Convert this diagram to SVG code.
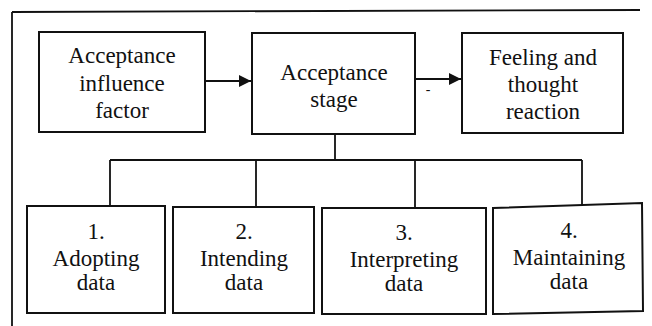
<svg xmlns="http://www.w3.org/2000/svg" width="652" height="326" viewBox="0 0 652 326">
<defs>
<marker id="ah" viewBox="0 0 12 12" refX="12" refY="6" markerWidth="12" markerHeight="12" markerUnits="userSpaceOnUse" orient="auto">
<path d="M0,0 L12,6 L0,12 Z" fill="#111"/>
</marker>
</defs>
<rect width="652" height="326" fill="#fff"/>
<g id="frame" fill="none" stroke="#111" stroke-width="1.8">
<path d="M12,12 L640,10 M12,12 L12,326"/>
</g>
<g id="connectors" fill="none" stroke="#111" stroke-width="1.8">
<path d="M205,81 L251,81" marker-end="url(#ah)"/>
<path d="M415,79 L461,79" marker-end="url(#ah)"/>
<path d="M335,134 L335,160 M110,160 L582,160 M110,160 L110,206 M256,160 L256,207 M415,160 L415,208 M582,160 L582,206"/>
</g>
<text x="428" y="94" font-family="Liberation Serif" font-size="14" text-anchor="middle" fill="#111">-</text>
<g id="n1">
<rect x="39" y="32" width="166" height="100" fill="#fff" stroke="#111" stroke-width="2"/>
<text x="122" y="63" font-family="Liberation Serif" font-size="23" text-anchor="middle" fill="#111">Acceptance</text>
<text x="122" y="91" font-family="Liberation Serif" font-size="23" text-anchor="middle" fill="#111">influence</text>
<text x="122" y="118" font-family="Liberation Serif" font-size="23" text-anchor="middle" fill="#111">factor</text>
</g>
<g id="n2">
<rect x="252" y="33" width="163" height="101" fill="#fff" stroke="#111" stroke-width="2"/>
<text x="334" y="80" font-family="Liberation Serif" font-size="23" text-anchor="middle" fill="#111">Acceptance</text>
<text x="334" y="107" font-family="Liberation Serif" font-size="23" text-anchor="middle" fill="#111">stage</text>
</g>
<g id="n3">
<rect x="462" y="33" width="161" height="100" fill="#fff" stroke="#111" stroke-width="2"/>
<text x="543" y="65" font-family="Liberation Serif" font-size="23" text-anchor="middle" fill="#111">Feeling and</text>
<text x="543" y="92" font-family="Liberation Serif" font-size="23" text-anchor="middle" fill="#111">thought</text>
<text x="543" y="119" font-family="Liberation Serif" font-size="23" text-anchor="middle" fill="#111">reaction</text>
</g>
<g id="n4">
<rect x="27" y="206" width="138" height="107" fill="#fff" stroke="#111" stroke-width="2"/>
<text x="96" y="239" font-family="Liberation Serif" font-size="23" text-anchor="middle" fill="#111">1.</text>
<text x="96" y="266" font-family="Liberation Serif" font-size="23" text-anchor="middle" fill="#111">Adopting</text>
<text x="96" y="290" font-family="Liberation Serif" font-size="23" text-anchor="middle" fill="#111">data</text>
</g>
<g id="n5">
<rect x="173" y="207" width="141" height="106" fill="#fff" stroke="#111" stroke-width="2"/>
<text x="244" y="239" font-family="Liberation Serif" font-size="23" text-anchor="middle" fill="#111">2.</text>
<text x="244" y="266" font-family="Liberation Serif" font-size="23" text-anchor="middle" fill="#111">Intending</text>
<text x="244" y="290" font-family="Liberation Serif" font-size="23" text-anchor="middle" fill="#111">data</text>
</g>
<g id="n6">
<rect x="322" y="208" width="164" height="106" fill="#fff" stroke="#111" stroke-width="2"/>
<text x="404" y="240" font-family="Liberation Serif" font-size="23" text-anchor="middle" fill="#111">3.</text>
<text x="404" y="267" font-family="Liberation Serif" font-size="23" text-anchor="middle" fill="#111">Interpreting</text>
<text x="404" y="291" font-family="Liberation Serif" font-size="23" text-anchor="middle" fill="#111">data</text>
</g>
<g id="n7">
<polygon points="493,208 642,203 643,311 493,314" fill="#fff" stroke="#111" stroke-width="2"/>
<text x="569" y="238" font-family="Liberation Serif" font-size="23" text-anchor="middle" fill="#111">4.</text>
<text x="569" y="265" font-family="Liberation Serif" font-size="23" text-anchor="middle" fill="#111">Maintaining</text>
<text x="569" y="289" font-family="Liberation Serif" font-size="23" text-anchor="middle" fill="#111">data</text>
</g>
</svg>
